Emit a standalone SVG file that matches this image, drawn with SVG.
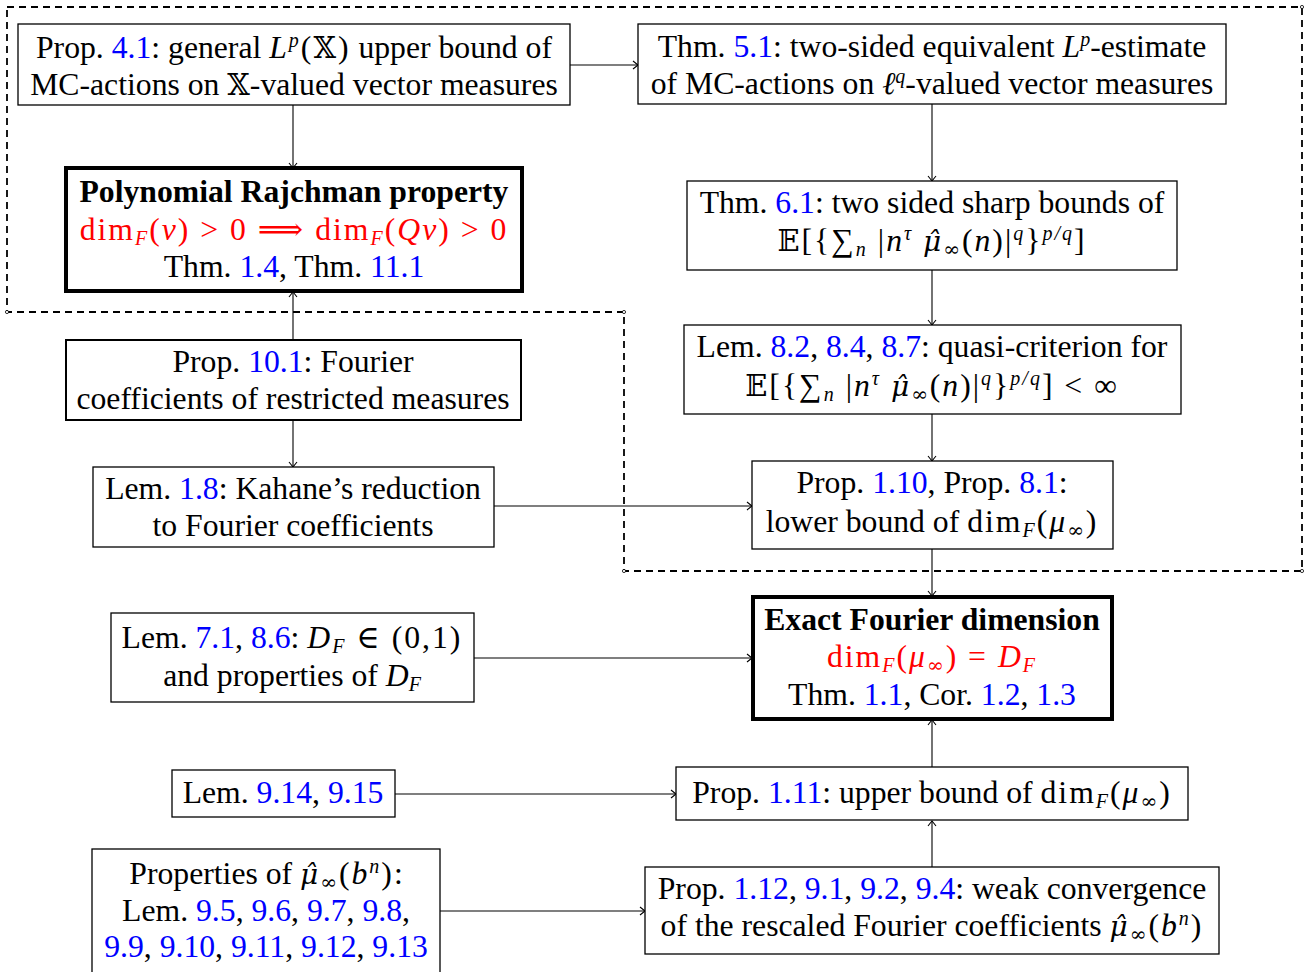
<svg xmlns="http://www.w3.org/2000/svg" width="1310" height="972" viewBox="0 0 1310 972">
<style>
.bx{fill:#fff;stroke:#000;stroke-width:1.3}
.bk{fill:#fff;stroke:#000;stroke-width:4}
.t{font-family:"Liberation Serif","DejaVu Serif",serif;font-size:31.7px;text-anchor:middle;fill:#000}
.bd{font-weight:bold}
.l{fill:#0000ff}
.r{fill:#ff0000}
.i{font-style:italic}
.m{letter-spacing:2px}
.ds{font-family:"DejaVu Serif","DejaVu Sans",serif;font-size:29px}
.inf{font-family:"DejaVu Serif","DejaVu Sans",serif}
.mh{font-family:"DejaVu Serif","DejaVu Sans",serif;font-style:italic;font-size:28px}
.sb{font-size:20px;baseline-shift:-5px}
.sp{font-size:20px;baseline-shift:11px}
.c{fill:none;stroke:#000;stroke-width:1.1}
.dash{fill:none;stroke:#000;stroke-width:1.8;stroke-dasharray:7 5}
.dot{fill:#fff;stroke:#000;stroke-width:0.8}
</style>
<defs>
<marker id="ar" markerUnits="userSpaceOnUse" markerWidth="12" markerHeight="12" refX="0" refY="0" viewBox="-7 -6 8 12" orient="auto">
<path d="M-5,-4 Q-1.2,-0.9 0,0 Q-1.2,0.9 -5,4" fill="none" stroke="#000" stroke-width="1.1"/>
</marker>
</defs>
<g id="boundary">
<path class="dash" d="M7,7 H1302 V571 H624 V312 H7 Z"/>
<circle class="dot" cx="7" cy="312" r="1.6"/>
<circle class="dot" cx="624" cy="312" r="1.6"/>
<circle class="dot" cx="624" cy="571" r="1.6"/>
<circle class="dot" cx="1302" cy="571" r="1.6"/>
<circle class="dot" cx="1302" cy="7" r="1.6"/>
</g>
<g id="connectors">
<line class="c" x1="570" y1="65" x2="638" y2="65" marker-end="url(#ar)"/>
<line class="c" x1="293" y1="105" x2="293" y2="168" marker-end="url(#ar)"/>
<line class="c" x1="293" y1="340" x2="293" y2="292" marker-end="url(#ar)"/>
<line class="c" x1="293" y1="420" x2="293" y2="467" marker-end="url(#ar)"/>
<line class="c" x1="494" y1="506" x2="752" y2="506" marker-end="url(#ar)"/>
<line class="c" x1="932" y1="104" x2="932" y2="181" marker-end="url(#ar)"/>
<line class="c" x1="932" y1="270" x2="932" y2="325" marker-end="url(#ar)"/>
<line class="c" x1="932" y1="414" x2="932" y2="461" marker-end="url(#ar)"/>
<line class="c" x1="932" y1="549" x2="932" y2="596" marker-end="url(#ar)"/>
<line class="c" x1="474" y1="658" x2="752" y2="658" marker-end="url(#ar)"/>
<line class="c" x1="395" y1="794" x2="676" y2="794" marker-end="url(#ar)"/>
<line class="c" x1="932" y1="767" x2="932" y2="720" marker-end="url(#ar)"/>
<line class="c" x1="440" y1="911" x2="645" y2="911" marker-end="url(#ar)"/>
<line class="c" x1="932" y1="867" x2="932" y2="821" marker-end="url(#ar)"/>
</g>
<g id="nA">
<rect class="bx" x="18" y="24" width="552" height="81"/>
<text class="t" x="294" y="58">Prop. <tspan class="l">4.1</tspan>: general <tspan class="m"><tspan class="i">L</tspan><tspan class="sp i">p</tspan>(<tspan class="ds">𝕏</tspan>)</tspan> upper bound of</text>
<text class="t" x="294" y="95">MC-actions on <tspan class="ds">𝕏</tspan>-valued vector measures</text>
</g>
<g id="nB">
<rect class="bx" x="638" y="24" width="588" height="80"/>
<text class="t" x="932" y="57">Thm. <tspan class="l">5.1</tspan>: two-sided equivalent <tspan class="i">L</tspan><tspan class="sp i">p</tspan>-estimate</text>
<text class="t" x="932" y="94">of MC-actions on <tspan class="i">ℓ</tspan><tspan class="sp i">q</tspan>-valued vector measures</text>
</g>
<g id="nC">
<rect class="bk" x="66" y="168" width="456" height="123"/>
<text class="t bd" x="294" y="202">Polynomial Rajchman property</text>
<text class="t r m" x="294" y="240">dim<tspan class="sb i">F</tspan>(<tspan class="i">ν</tspan>) &gt; 0 ⟹ dim<tspan class="sb i">F</tspan>(<tspan class="i">Qν</tspan>) &gt; 0</text>
<text class="t" x="294" y="277">Thm. <tspan class="l">1.4</tspan>, Thm. <tspan class="l">11.1</tspan></text>
</g>
<g id="nD">
<rect class="bx" x="687" y="181" width="490" height="89"/>
<text class="t" x="932" y="213">Thm. <tspan class="l">6.1</tspan>: two sided sharp bounds of</text>
<text class="t m" x="932" y="251"><tspan class="ds">𝔼</tspan>[{∑<tspan class="sb i">n</tspan> |<tspan class="i">n</tspan><tspan class="sp i">τ</tspan> <tspan class="mh">μ̂</tspan><tspan class="sb inf">∞</tspan>(<tspan class="i">n</tspan>)|<tspan class="sp i">q</tspan>}<tspan class="sp i">p/q</tspan>]</text>
</g>
<g id="nE">
<rect class="bx" x="66" y="340" width="455" height="80" style="stroke-width:2"/>
<text class="t" x="293" y="372">Prop. <tspan class="l">10.1</tspan>: Fourier</text>
<text class="t" x="293" y="409">coefficients of restricted measures</text>
</g>
<g id="nF">
<rect class="bx" x="93" y="467" width="401" height="80"/>
<text class="t" x="293" y="499">Lem. <tspan class="l">1.8</tspan>: Kahane’s reduction</text>
<text class="t" x="293" y="536">to Fourier coefficients</text>
</g>
<g id="nG">
<rect class="bx" x="684" y="325" width="497" height="89"/>
<text class="t" x="932" y="357">Lem. <tspan class="l">8.2</tspan>, <tspan class="l">8.4</tspan>, <tspan class="l">8.7</tspan>: quasi-criterion for</text>
<text class="t m" x="932" y="396"><tspan class="ds">𝔼</tspan>[{∑<tspan class="sb i">n</tspan> |<tspan class="i">n</tspan><tspan class="sp i">τ</tspan> <tspan class="mh">μ̂</tspan><tspan class="sb inf">∞</tspan>(<tspan class="i">n</tspan>)|<tspan class="sp i">q</tspan>}<tspan class="sp i">p/q</tspan>]  &lt;  ∞</text>
</g>
<g id="nH">
<rect class="bx" x="752" y="461" width="361" height="88"/>
<text class="t" x="932" y="493">Prop. <tspan class="l">1.10</tspan>, Prop. <tspan class="l">8.1</tspan>:</text>
<text class="t" x="932" y="532">lower bound of <tspan class="m">dim<tspan class="sb i">F</tspan>(<tspan class="i">μ</tspan><tspan class="sb inf">∞</tspan>)</tspan></text>
</g>
<g id="nI">
<rect class="bk" x="753" y="597" width="359" height="122"/>
<text class="t bd" x="932" y="630">Exact Fourier dimension</text>
<text class="t r m" x="932" y="667">dim<tspan class="sb i">F</tspan>(<tspan class="i">μ</tspan><tspan class="sb inf">∞</tspan>) = <tspan class="i">D</tspan><tspan class="sb i">F</tspan></text>
<text class="t" x="932" y="705">Thm. <tspan class="l">1.1</tspan>, Cor. <tspan class="l">1.2</tspan>, <tspan class="l">1.3</tspan></text>
</g>
<g id="nJ">
<rect class="bx" x="111" y="613" width="363" height="89"/>
<text class="t" x="292" y="648">Lem. <tspan class="l">7.1</tspan>, <tspan class="l">8.6</tspan>: <tspan class="m"><tspan class="i">D</tspan><tspan class="sb i">F</tspan> ∈ (0,1)</tspan></text>
<text class="t" x="292" y="686">and properties of <tspan class="i">D</tspan><tspan class="sb i">F</tspan></text>
</g>
<g id="nK">
<rect class="bx" x="172" y="770" width="223" height="47"/>
<text class="t" x="283" y="803">Lem. <tspan class="l">9.14</tspan>, <tspan class="l">9.15</tspan></text>
</g>
<g id="nL">
<rect class="bx" x="676" y="767" width="512" height="53"/>
<text class="t" x="932" y="803">Prop. <tspan class="l">1.11</tspan>: upper bound of <tspan class="m">dim<tspan class="sb i">F</tspan>(<tspan class="i">μ</tspan><tspan class="sb inf">∞</tspan>)</tspan></text>
</g>
<g id="nM">
<rect class="bx" x="92" y="849" width="348" height="130"/>
<text class="t" x="266" y="884">Properties of <tspan class="m"><tspan class="mh">μ̂</tspan><tspan class="sb inf">∞</tspan>(<tspan class="i">b</tspan><tspan class="sp i">n</tspan>)</tspan>:</text>
<text class="t" x="266" y="921">Lem. <tspan class="l">9.5</tspan>, <tspan class="l">9.6</tspan>, <tspan class="l">9.7</tspan>, <tspan class="l">9.8</tspan>,</text>
<text class="t" x="266" y="957"><tspan class="l">9.9</tspan>, <tspan class="l">9.10</tspan>, <tspan class="l">9.11</tspan>, <tspan class="l">9.12</tspan>, <tspan class="l">9.13</tspan></text>
</g>
<g id="nN">
<rect class="bx" x="645" y="867" width="574" height="87"/>
<text class="t" x="932" y="899">Prop. <tspan class="l">1.12</tspan>, <tspan class="l">9.1</tspan>, <tspan class="l">9.2</tspan>, <tspan class="l">9.4</tspan>: weak convergence</text>
<text class="t" x="932" y="936">of the rescaled Fourier coefficients <tspan class="m"><tspan class="mh">μ̂</tspan><tspan class="sb inf">∞</tspan>(<tspan class="i">b</tspan><tspan class="sp i">n</tspan>)</tspan></text>
</g>
</svg>
